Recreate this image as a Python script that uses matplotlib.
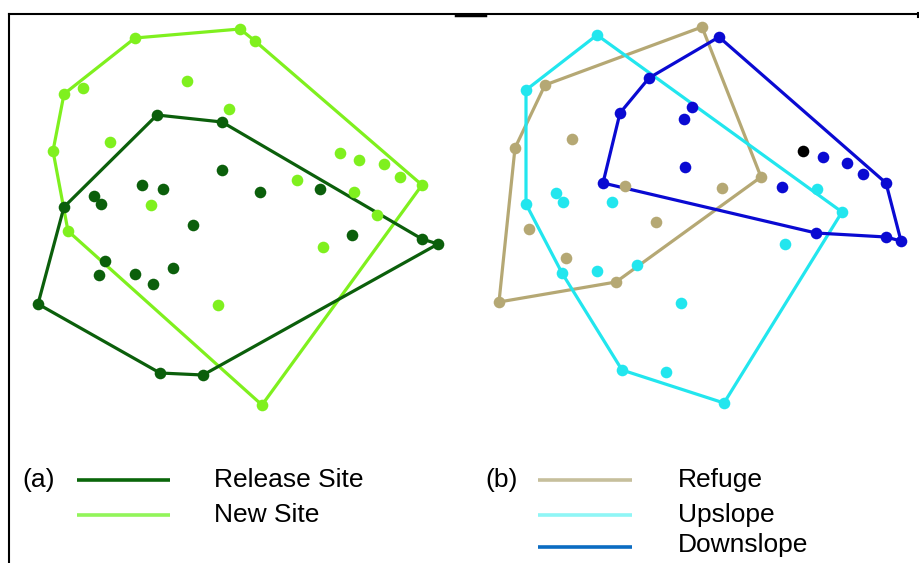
import matplotlib
matplotlib.use("Agg")
import matplotlib.pyplot as plt

# home-range hulls, x/y in image units (y grows downward)
release_hull_x = [157, 222, 422, 438, 203, 160, 38, 64]
release_hull_y = [115, 122, 239, 244, 375, 373, 304, 207]
release_pts_x = [222, 142, 163, 260, 320, 94, 101, 193, 352, 105, 99, 135, 173, 153]
release_pts_y = [170, 185, 189, 192, 189, 196, 204, 225, 235, 261, 275, 274, 268, 284]

new_hull_x = [135, 240, 255, 422, 262, 68, 53, 64]
new_hull_y = [38, 29, 41, 185, 405, 231, 151, 94]
new_pts_x = [83, 187, 229, 110, 340, 359, 384, 400, 297, 354, 151, 377, 323, 218]
new_pts_y = [88, 81, 109, 142, 153, 160, 164, 177, 180, 192, 205, 215, 247, 305]

refuge_hull_x = [702, 761, 616, 499, 515, 545]
refuge_hull_y = [27, 177, 282, 302, 148, 85]
refuge_pts_x = [572, 625, 722, 656, 529, 566]
refuge_pts_y = [139, 186, 188, 222, 229, 258]

up_hull_x = [597, 842, 724, 622, 562, 526, 526]
up_hull_y = [35, 212, 403, 370, 273, 204, 90]
up_pts_x = [556, 563, 612, 817, 785, 637, 597, 681, 666]
up_pts_y = [193, 202, 202, 189, 244, 265, 271, 303, 372]

down_hull_x = [719, 886, 901, 886, 816, 603, 620, 649]
down_hull_y = [37, 183, 241, 237, 233, 183, 113, 78]
down_pts_x = [692, 684, 685, 823, 847, 863, 782]
down_pts_y = [107, 119, 167, 157, 163, 174, 187]
odd_pt = (803, 151)

legend_a = ["Release Site", "New Site"]
legend_b = ["Refuge", "Upslope", "Downslope"]


def hull(ax, xs, ys, px, py, color, lw=2.3):
    ax.plot(xs + xs[:1], ys + ys[:1], color=color, lw=lw, zorder=2)
    ax.scatter(xs, ys, s=70, color=color, zorder=3, linewidths=0)
    ax.scatter(px, py, s=70, color=color, zorder=3, linewidths=0)


fig = plt.figure(figsize=(9.19, 5.63), dpi=100)
ax = fig.add_axes([0, 0, 1, 1])
ax.set_xlim(0, 919)
ax.set_ylim(563, 0)
ax.axis("off")

# frame
ax.plot([9, 918], [14, 14], color="black", lw=1.5)
ax.plot([9, 9], [14, 563], color="black", lw=1.5)
ax.plot([918, 918], [13, 17], color="black", lw=1.5)
ax.plot([456, 485], [15, 15], color="black", lw=2.5)

hull(ax, new_hull_x, new_hull_y, new_pts_x, new_pts_y, "#7ff01e")
hull(ax, release_hull_x, release_hull_y, release_pts_x, release_pts_y, "#0b5f0b")
hull(ax, refuge_hull_x, refuge_hull_y, refuge_pts_x, refuge_pts_y, "#b5a874")
hull(ax, up_hull_x, up_hull_y, up_pts_x, up_pts_y, "#22e6ee")
hull(ax, down_hull_x, down_hull_y, down_pts_x, down_pts_y, "#0a0ad2")
ax.scatter([odd_pt[0]], [odd_pt[1]], s=70, color="black", zorder=4, linewidths=0)

font = ["Liberation Sans Narrow", "Liberation Sans", "DejaVu Sans"]
ts = 19

# legends
ax.text(22, 480, "(a)", fontsize=ts, family=font, va="center")
for i, (lab, c) in enumerate(zip(legend_a, ["#0a660a", "#92f55a"])):
    ax.plot([77, 170], [480 + 35 * i] * 2, color=c, lw=2.6, solid_capstyle="butt")
    ax.text(214, 480 + 35 * i, lab, fontsize=ts, family=font, va="center")

ax.text(485, 480, "(b)", fontsize=ts, family=font, va="center")
line_y = [480, 515, 547]
text_y = [480, 515, 545]
for i, (lab, c) in enumerate(zip(legend_b, ["#c6bf9c", "#8ff6f6", "#0b6cc2"])):
    ax.plot([538, 632], [line_y[i]] * 2, color=c, lw=2.6, solid_capstyle="butt")
    ax.text(678, text_y[i], lab, fontsize=ts, family=font, va="center")

fig.savefig("out.png", dpi=100)
